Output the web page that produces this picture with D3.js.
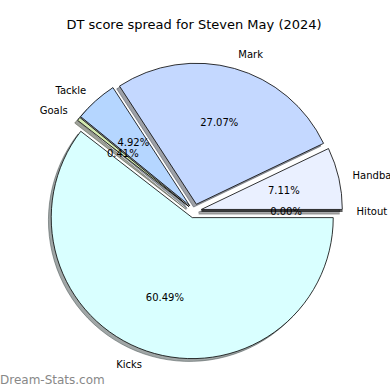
<!DOCTYPE html>
<html>
<head>
<meta charset="utf-8">
<script src="https://cdn.jsdelivr.net/npm/d3@7"></script>
<style>
  body { margin: 0; background: #fff; }
  text { font-family: "DejaVu Sans", sans-serif; }
</style>
</head>
<body>
<svg id="chart" width="390" height="390"></svg>
<script>
// ---- data (order as drawn, counterclockwise from 3 o'clock) ----
var labels = ["Hitout", "Handball", "Mark", "Tackle", "Goals", "Kicks"];
var values = [0.00, 7.11, 27.07, 4.92, 0.41, 60.49];
var colors = ["#ffffff", "#eaf0ff", "#c4d8ff", "#b5d6ff", "#d4eab0", "#d9ffff"];

var width = 390, height = 390;
var cx = 194.5, cy = 211, radius = 141;
var explode = 7;          // same offset for every wedge
var shadowDx = -2.8, shadowDy = 2.8;

var svg = d3.select("#chart");

svg.append("text")
  .attr("x", 194)
  .attr("y", 25)
  .attr("text-anchor", "middle")
  .attr("dominant-baseline", "middle")
  .style("font-size", "13px")
  .text("DT score spread for Steven May (2024)");

// pie runs counterclockwise starting at 3 o'clock, like matplotlib
var pie = d3.pie()
  .sort(null)
  .value(function(d) { return d; })
  .startAngle(Math.PI / 2)
  .endAngle(Math.PI / 2 - 2 * Math.PI);

var arcs = pie(values);
var arc = d3.arc().innerRadius(0).outerRadius(radius);

function midDir(a) {
  var m = (a.startAngle + a.endAngle) / 2;
  return [Math.sin(m), -Math.cos(m)];
}

function shade(c) {
  var col = d3.rgb(c);
  return d3.rgb(col.r * 0.3, col.g * 0.3, col.b * 0.3).toString();
}

var g = svg.append("g").attr("transform", "translate(" + cx + "," + cy + ")");

// shadows first, under every wedge
g.selectAll("path.shadow")
  .data(arcs)
  .enter().append("path")
    .attr("class", "shadow")
    .attr("d", arc)
    .attr("transform", function(d) {
      var u = midDir(d);
      return "translate(" + (u[0] * explode + shadowDx) + "," + (u[1] * explode + shadowDy) + ")";
    })
    .attr("fill", function(d, i) { return shade(colors[i]); })
    .attr("fill-opacity", 0.5)
    .attr("stroke", function(d, i) { return shade(colors[i]); })
    .attr("stroke-opacity", 0.5)
    .attr("stroke-width", 1);

g.selectAll("path.wedge")
  .data(arcs)
  .enter().append("path")
    .attr("class", "wedge")
    .attr("d", arc)
    .attr("transform", function(d) {
      var u = midDir(d);
      return "translate(" + (u[0] * explode) + "," + (u[1] * explode) + ")";
    })
    .attr("fill", function(d, i) { return colors[i]; })
    .attr("stroke", "#000")
    .attr("stroke-width", 0.8)
    .attr("stroke-linejoin", "round");

// category labels at 1.1 r, percent labels at 0.6 r
g.selectAll("text.lab")
  .data(arcs)
  .enter().append("text")
    .attr("class", "lab")
    .attr("x", function(d) { return midDir(d)[0] * (explode + radius * 1.1); })
    .attr("y", function(d) { return midDir(d)[1] * (explode + radius * 1.1); })
    .attr("text-anchor", function(d) { return midDir(d)[0] > 0 ? "start" : "end"; })
    .attr("dominant-baseline", "central")
    .style("font-size", "10px")
    .text(function(d, i) { return labels[i]; });

g.selectAll("text.pct")
  .data(arcs)
  .enter().append("text")
    .attr("class", "pct")
    .attr("x", function(d) { return midDir(d)[0] * (explode + radius * 0.6); })
    .attr("y", function(d) { return midDir(d)[1] * (explode + radius * 0.6); })
    .attr("text-anchor", "middle")
    .attr("dominant-baseline", "central")
    .style("font-size", "10px")
    .text(function(d, i) { return values[i].toFixed(2) + "%"; });

svg.append("text")
  .attr("x", 0)
  .attr("y", 380)
  .attr("dominant-baseline", "central")
  .attr("fill", "#888")
  .style("font-size", "12px")
  .text("Dream-Stats.com");
</script>
</body>
</html>
